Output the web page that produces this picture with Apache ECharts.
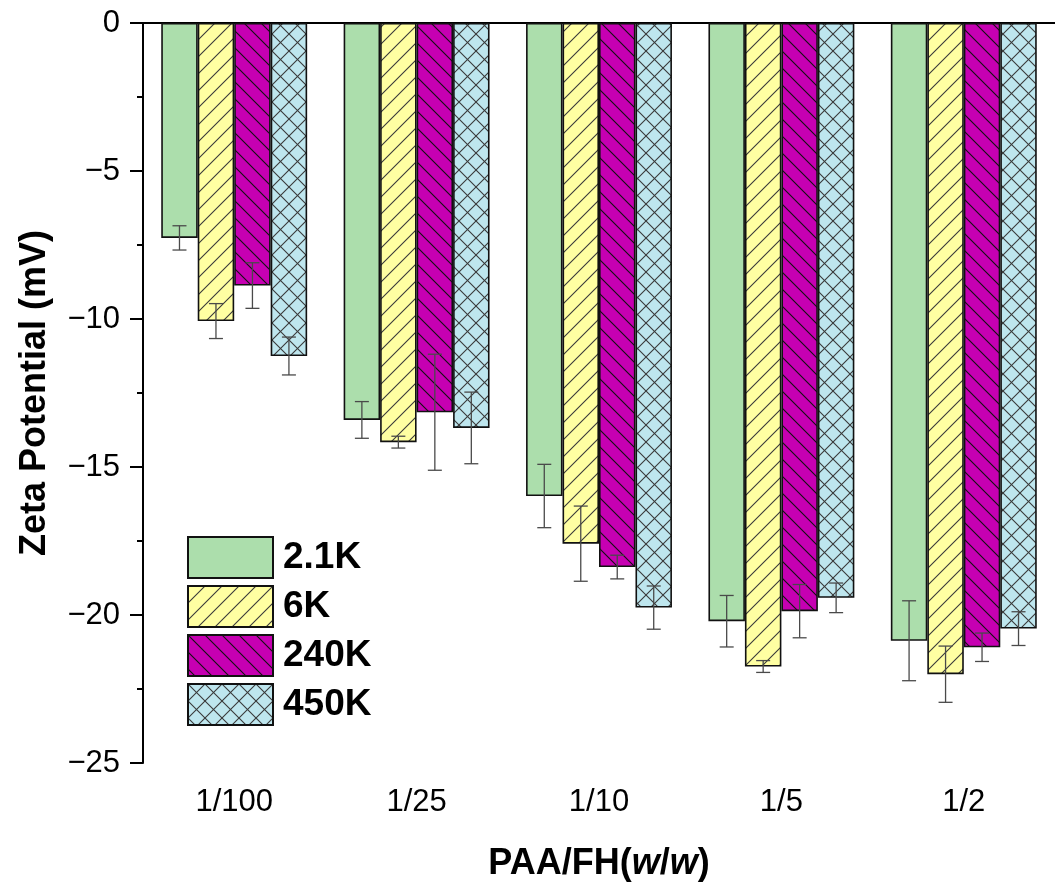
<!DOCTYPE html>
<html>
<head>
<meta charset="utf-8">
<script src="https://cdn.jsdelivr.net/npm/echarts@6/dist/echarts.min.js"></script>
<style>
html,body{margin:0;padding:0;background:#fff;}
#chart{width:1055px;height:887px;}
</style>
</head>
<body>
<div id="chart"></div>
<script>
// ---- data ----
const categories = ['1/100', '1/25', '1/10', '1/5', '1/2'];
const seriesNames = ['2.1K', '6K', '240K', '450K'];
const val_2_1K = [-7.26, -13.41, -15.98, -20.21, -20.87];
const err_2_1K = [0.41, 0.62, 1.07, 0.87, 1.35];
const val_6K = [-10.07, -14.16, -17.59, -21.74, -22.00];
const err_6K = [0.59, 0.20, 1.27, 0.20, 0.95];
const val_240K = [-8.87, -13.15, -18.38, -19.87, -21.09];
const err_240K = [0.77, 1.96, 0.40, 0.90, 0.48];
const val_450K = [-11.25, -13.68, -19.75, -19.42, -20.46];
const err_450K = [0.64, 1.21, 0.73, 0.50, 0.57];
const yMin = -25, yMax = 0, yInterval = 5;

const values = [val_2_1K, val_6K, val_240K, val_450K];
const errors = [err_2_1K, err_6K, err_240K, err_450K];

// ---- patterns ----
function makePattern(bg, lineColor, kind) {
  const s = 17;
  const c = document.createElement('canvas');
  c.width = s; c.height = s;
  const ctx = c.getContext('2d');
  ctx.fillStyle = bg;
  ctx.fillRect(0, 0, s, s);
  if (kind === 'none') return c;
  ctx.strokeStyle = lineColor;
  ctx.lineWidth = 1.1;
  function fwd() { // "/"
    ctx.beginPath();
    ctx.moveTo(-2, s + 2); ctx.lineTo(s + 2, -2);
    ctx.moveTo(-2, 2); ctx.lineTo(2, -2);
    ctx.moveTo(s - 2, s + 2); ctx.lineTo(s + 2, s - 2);
    ctx.stroke();
  }
  function back() { // "\"
    ctx.beginPath();
    ctx.moveTo(-2, -2); ctx.lineTo(s + 2, s + 2);
    ctx.moveTo(s - 2, -2); ctx.lineTo(s + 2, 2);
    ctx.moveTo(-2, s - 2); ctx.lineTo(2, s + 2);
    ctx.stroke();
  }
  if (kind === 'fwd' || kind === 'cross') fwd();
  if (kind === 'back' || kind === 'cross') back();
  return c;
}
const fills = [
  { color: '#ACDEAC', kind: 'none', line: '#000' },
  { color: '#FFFFA2', kind: 'fwd', line: '#3a3a3a' },
  { color: '#C600B2', kind: 'back', line: '#111' },
  { color: '#BEE6EE', kind: 'cross', line: '#3a3a3a' }
];

const FONT = "'Liberation Sans', Arial, Helvetica, sans-serif";

const barSeries = seriesNames.map((name, si) => ({
  name: name,
  type: 'bar',
  xAxisIndex: 0,
  yAxisIndex: 0,
  barWidth: '20%',
  barGap: '0%',
  data: values[si],
  itemStyle: {
    color: { image: makePattern(fills[si].color, fills[si].line, fills[si].kind), repeat: 'repeat' },
    borderColor: '#111',
    borderWidth: 1.6
  }
}));

const errData = [];
for (let si = 0; si < seriesNames.length; si++) {
  for (let i = 0; i < categories.length; i++) {
    errData.push([i, values[si][i], errors[si][i], si]);
  }
}

const errSeries = {
  type: 'custom',
  xAxisIndex: 0,
  yAxisIndex: 0,
  encode: { x: 0, y: 1 },
  data: errData,
  z: 10,
  renderItem: function (params, api) {
    const i = api.value(0), v = api.value(1), e = api.value(2), s = api.value(3);
    const band = api.size([1, 0])[0];
    const bw = band * 0.2;
    const x = api.coord([i, v])[0] + (s - 1.5) * bw;
    const yT = api.coord([i, v + e])[1];
    const yB = api.coord([i, v - e])[1];
    const hw = 7;
    const st = { stroke: '#4a4a4a', lineWidth: 1.3 };
    return {
      type: 'group',
      children: [
        { type: 'line', shape: { x1: x, y1: yT, x2: x, y2: yB }, style: st },
        { type: 'line', shape: { x1: x - hw, y1: yT, x2: x + hw, y2: yT }, style: st },
        { type: 'line', shape: { x1: x - hw, y1: yB, x2: x + hw, y2: yB }, style: st }
      ]
    };
  }
};

const chart = echarts.init(document.getElementById('chart'), null, { renderer: 'canvas' });
const gridPos = { left: 143, top: 23, width: 922, height: 740 };
chart.setOption({
  animation: false,
  backgroundColor: '#fff',
  textStyle: { fontFamily: FONT },
  grid: [
    Object.assign({ containLabel: false }, gridPos),
    Object.assign({ containLabel: false }, gridPos)
  ],
  legend: {
    orient: 'vertical',
    left: 187,
    top: 536,
    padding: 0,
    icon: 'rect',
    itemWidth: 85,
    itemHeight: 41,
    itemGap: 6,
    data: seriesNames,
    textStyle: { fontFamily: FONT, fontSize: 37, lineHeight: 41, fontWeight: 'bold', color: '#000', padding: [0, 0, 0, 5] }
  },
  xAxis: [
    {
      type: 'category',
      gridIndex: 0,
      position: 'bottom',
      data: categories,
      axisLine: { lineStyle: { color: '#000', width: 2 } },
      axisTick: { alignWithLabel: true, length: 14, lineStyle: { color: '#000', width: 2 } },
      axisLabel: { color: '#000', fontSize: 31, margin: 24, fontFamily: FONT },
      name: '{b|PAA/FH(}{i|w}{b|/}{i|w}{b|)}',
      nameLocation: 'middle',
      nameGap: 83,
      nameTextStyle: {
        rich: {
          b: { fontSize: 36, fontWeight: 'bold', color: '#000', fontFamily: FONT },
          i: { fontSize: 36, fontWeight: 'bold', fontStyle: 'italic', color: '#000', fontFamily: FONT }
        }
      },
      splitLine: { show: false }
    },
    {
      type: 'category',
      gridIndex: 0,
      position: 'top',
      data: categories,
      axisLine: { lineStyle: { color: '#000', width: 2 } },
      axisTick: { show: false },
      axisLabel: { show: false },
      splitLine: { show: false }
    },
    {
      type: 'category',
      gridIndex: 1,
      position: 'bottom',
      data: categories,
      axisLine: { show: false },
      axisTick: { alignWithLabel: false, interval: 0, length: 7, lineStyle: { color: '#000', width: 2 } },
      axisLabel: { show: false },
      splitLine: { show: false }
    }
  ],
  yAxis: [
    {
      type: 'value',
      gridIndex: 0,
      min: yMin,
      max: yMax,
      interval: yInterval,
      axisLine: { show: true, lineStyle: { color: '#000', width: 2 } },
      axisTick: { show: true, length: 13, lineStyle: { color: '#000', width: 2 } },
      minorTick: { show: true, splitNumber: 2, length: 6, lineStyle: { color: '#000', width: 2 } },
      axisLabel: {
        color: '#000', fontSize: 31, margin: 23, fontFamily: FONT,
        formatter: function (v) { return String(v).replace('-', '\u2212'); }
      },
      splitLine: { show: false },
      name: 'Zeta Potential (mV)',
      nameLocation: 'middle',
      nameGap: 90,
      nameTextStyle: { fontSize: 36, fontWeight: 'bold', color: '#000', fontFamily: FONT }
    },
    {
      type: 'value',
      gridIndex: 1,
      min: yMin,
      max: yMax,
      show: false
    }
  ],
  series: barSeries.concat([errSeries])
});
</script>
</body>
</html>
